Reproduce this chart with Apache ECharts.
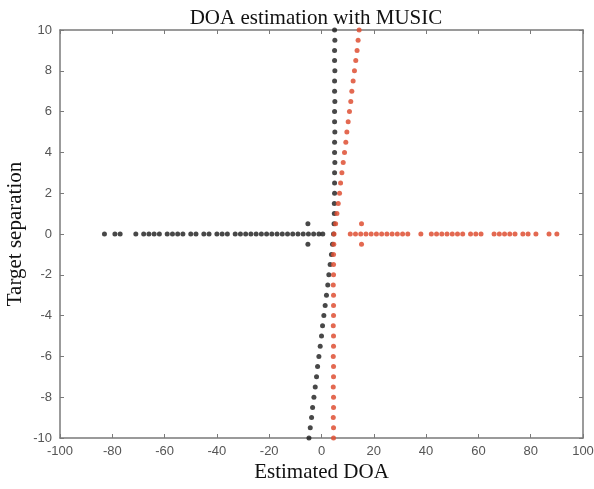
<!DOCTYPE html>
<html>
<head>
<meta charset="utf-8">
<script src="https://cdn.jsdelivr.net/npm/echarts@6/dist/echarts.min.js"></script>
<style>
  html, body { margin: 0; padding: 0; background: #fff; }
  #doa { width: 594px; height: 489px; }
</style>
</head>
<body>
<div id="doa"></div>
<script>
// target separation values (y), one estimate per separation for each source
var sepVals = [-10, -9.5, -9, -8.5, -8, -7.5, -7, -6.5, -6, -5.5, -5, -4.5, -4, -3.5, -3, -2.5, -2, -1.5, -1, -0.5,
  0, 0.5, 1, 1.5, 2, 2.5, 3, 3.5, 4, 4.5, 5, 5.5, 6, 6.5, 7, 7.5, 8, 8.5, 9, 9.5, 10];

// estimated DOA of the first source (black)
var blackLineX = [-4.8, -4.3, -3.8, -3.4, -2.9, -2.4, -1.9, -1.5, -1.0, -0.5, 0.0, 0.4, 0.9, 1.4, 1.9, 2.4, 2.8, 3.3, 3.8, 4.2,
  4.6, 4.8, 4.9, 4.9, 5.0, 5.0, 5.0, 5.1, 5.0, 5.0, 5.1, 5.0, 5.0, 5.1, 5.0, 5.0, 5.1, 5.0, 5.0, 5.1, 5.0];

// estimated DOA of the second source (red)
var redLineX = [4.6, 4.6, 4.5, 4.6, 4.6, 4.5, 4.6, 4.6, 4.5, 4.6, 4.6, 4.5, 4.6, 4.6, 4.6, 4.5, 4.6, 4.6, 4.6, 4.7,
  4.8, 5.4, 5.9, 6.4, 6.9, 7.3, 7.8, 8.3, 8.8, 9.3, 9.7, 10.2, 10.7, 11.2, 11.6, 12.1, 12.6, 13.1, 13.6, 14.0, 14.4];

// spurious estimates at zero separation
var blackRowX = [-83, -79, -77, -71, -68, -66, -64, -62, -59, -57, -55, -53, -50, -48, -45, -43, -40, -38, -36, -33,
  -31, -29, -27, -25, -23, -21, -19, -17, -15, -13, -11, -9, -7, -5, -3, -1, 0.5];
var redRowX = [11, 13, 15, 17, 19, 21, 23, 25, 27, 29, 31, 33, 38, 42, 44, 46, 48, 50, 52, 54,
  57, 59, 61, 66, 68, 70, 72, 74, 77, 79, 82, 87, 90];

// unresolved estimates at +-0.5 separation
var blackExtra = [[-5.2, 0.5], [-5.2, -0.5]];
var redExtra = [[15.3, 0.5], [15.3, -0.5]];

var xTicks = { min: -100, max: 100, step: 20 };
var yTicks = { min: -10, max: 10, step: 2 };

function toPoints(xs, ys) {
  return xs.map(function (x, i) { return [x, ys[i]]; });
}
function rowPoints(xs) {
  return xs.map(function (x) { return [x, 0]; });
}

var blackPts = toPoints(blackLineX, sepVals).concat(rowPoints(blackRowX)).concat(blackExtra);
var redPts = toPoints(redLineX, sepVals).concat(rowPoints(redRowX)).concat(redExtra);

var lineStyle = { color: '#7a7a7a', width: 1.5 };
var tickStyle = { color: '#7a7a7a', width: 1 };
var labelStyle = { color: '#555', fontFamily: 'Liberation Sans', fontSize: 13 };

var chart = echarts.init(document.getElementById('doa'));
var option = {
  backgroundColor: '#fff',
  animation: false,
  title: {
    text: 'DOA estimation with MUSIC',
    left: 311,
    textAlign: 'center',
    top: 3,
    textStyle: { fontFamily: 'Liberation Serif', fontWeight: 'normal', fontSize: 21, color: '#111' }
  },
  grid: { left: 60, right: 11, top: 30, bottom: 51, containLabel: false, outerBoundsMode: 'none' },
  xAxis: [
    {
      type: 'value', min: xTicks.min, max: xTicks.max, interval: xTicks.step,
      name: 'Estimated DOA', nameLocation: 'middle', nameGap: 24, nameMoveOverlap: false,
      nameTextStyle: { fontFamily: 'Liberation Serif', fontSize: 21, color: '#111' },
      axisLine: { onZero: false, lineStyle: lineStyle },
      axisTick: { inside: true, length: 4, lineStyle: tickStyle },
      axisLabel: Object.assign({ margin: 7 }, labelStyle),
      splitLine: { show: false }
    },
    {
      type: 'value', position: 'top', min: xTicks.min, max: xTicks.max, interval: xTicks.step,
      axisLine: { onZero: false, lineStyle: lineStyle },
      axisTick: { inside: true, length: 4, lineStyle: tickStyle },
      axisLabel: { show: false },
      splitLine: { show: false }
    }
  ],
  yAxis: [
    {
      type: 'value', min: yTicks.min, max: yTicks.max, interval: yTicks.step,
      name: 'Target separation', nameLocation: 'middle', nameGap: 34, nameRotate: 90, nameMoveOverlap: false,
      nameTextStyle: { fontFamily: 'Liberation Serif', fontSize: 21, color: '#111' },
      axisLine: { show: true, onZero: false, lineStyle: lineStyle },
      axisTick: { show: true, inside: true, length: 4, lineStyle: tickStyle },
      axisLabel: Object.assign({ margin: 8 }, labelStyle),
      splitLine: { show: false }
    },
    {
      type: 'value', position: 'right', min: yTicks.min, max: yTicks.max, interval: yTicks.step,
      axisLine: { show: true, onZero: false, lineStyle: lineStyle },
      axisTick: { show: true, inside: true, length: 4, lineStyle: tickStyle },
      axisLabel: { show: false },
      splitLine: { show: false }
    }
  ],
  series: [
    {
      name: 'source 1', type: 'scatter', symbol: 'circle', symbolSize: 5,
      itemStyle: { color: '#1a1a1a' },
      data: blackPts
    },
    {
      name: 'source 2', type: 'scatter', symbol: 'circle', symbolSize: 5,
      itemStyle: { color: '#de4f33', opacity: 0.85 },
      data: redPts
    }
  ]
};
chart.setOption(option);
</script>
</body>
</html>
